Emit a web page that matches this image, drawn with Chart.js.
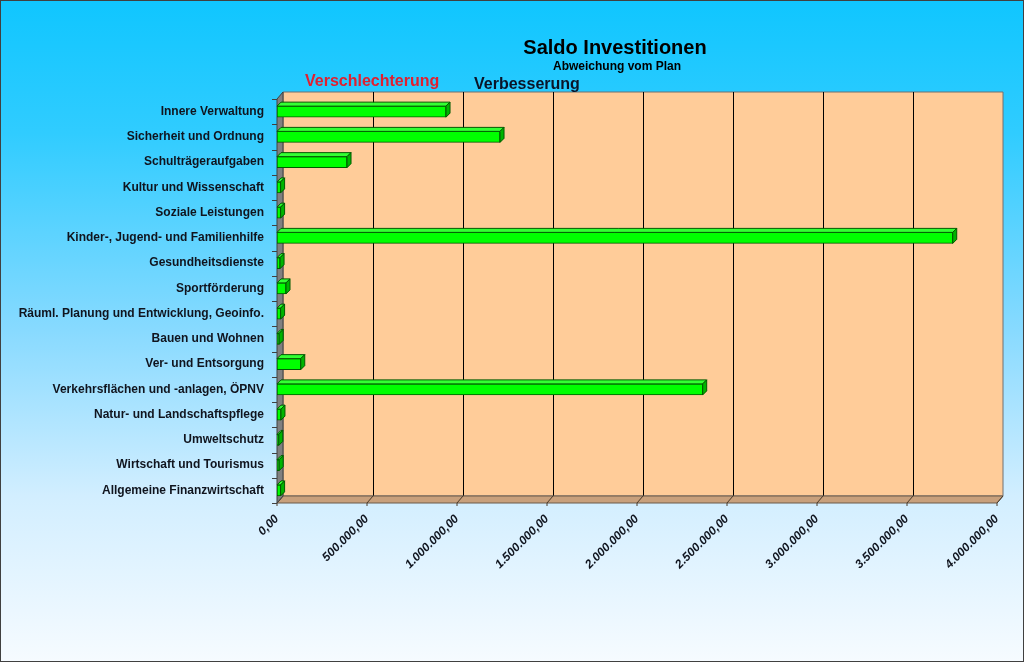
<!DOCTYPE html>
<html>
<head>
<meta charset="utf-8">
<script src="https://cdn.jsdelivr.net/npm/chart.js@4.4.1/dist/chart.umd.min.js"></script>
<style>
    html, body { margin: 0; padding: 0; }
    #wrap {
        width: 1024px; height: 662px; box-sizing: border-box;
        border: 1px solid #404040;
        background: linear-gradient(to bottom, #10c6ff 0%, #30ccff 20%, #88daff 50%, #d2eeff 75%, #f6fbff 100%);
        position: relative;
    }
    canvas { position: absolute; left: -1px; top: -1px; }
</style>
</head>
<body>
<div id="wrap"><canvas id="grafico" width="1024" height="662"></canvas></div>
<script>
// Daten
const bereiche = [
    'Innere Verwaltung',
    'Sicherheit und Ordnung',
    'Schulträgeraufgaben',
    'Kultur und Wissenschaft',
    'Soziale Leistungen',
    'Kinder-, Jugend- und Familienhilfe',
    'Gesundheitsdienste',
    'Sportförderung',
    'Räuml. Planung und Entwicklung, Geoinfo.',
    'Bauen und Wohnen',
    'Ver- und Entsorgung',
    'Verkehrsflächen und -anlagen, ÖPNV',
    'Natur- und Landschaftspflege',
    'Umweltschutz',
    'Wirtschaft und Tourismus',
    'Allgemeine Finanzwirtschaft'
];
const saldo = [
    939000, 1239000, 389000, 20000, 20000, 3754000, 17000, 50000,
    20000, 12000, 132000, 2365000, 22000, 10000, 12000, 20000
];
const achseMin = 0;
const achseMax = 4000000;
const achseSchritt = 500000;

// Tiefe des 3D-Effekts
const wandDx = 6, wandDy = -7;
const balkenTiefe = 4;

function formatDe(v) {
    const teile = v.toFixed(2).split('.');
    const ganz = teile[0].replace(/\B(?=(\d{3})+(?!\d))/g, '.');
    return ganz + ',' + teile[1];
}

function poly(ctx, pts, fill, stroke) {
    ctx.beginPath();
    ctx.moveTo(pts[0][0], pts[0][1]);
    for (let i = 1; i < pts.length; i++) ctx.lineTo(pts[i][0], pts[i][1]);
    ctx.closePath();
    if (fill) { ctx.fillStyle = fill; ctx.fill(); }
    if (stroke) { ctx.strokeStyle = stroke; ctx.lineWidth = 1; ctx.stroke(); }
}

// Wände, Boden und Gitter hinter den Balken
const wandPlugin = {
    id: 'wand',
    beforeDatasetsDraw(chart) {
        const ctx = chart.ctx;
        const a = chart.chartArea;
        const x = chart.scales.x;
        ctx.save();
        // Rückwand
        poly(ctx, [[a.left + wandDx, a.top + wandDy], [a.right + wandDx, a.top + wandDy],
                   [a.right + wandDx, a.bottom + wandDy], [a.left + wandDx, a.bottom + wandDy]], '#ffcc99', '#707070');
        // Gitterlinien
        ctx.strokeStyle = '#000000';
        ctx.lineWidth = 1;
        for (let v = achseMin + achseSchritt; v < achseMax; v += achseSchritt) {
            const px = Math.round(x.getPixelForValue(v) + wandDx) + 0.5;
            ctx.beginPath();
            ctx.moveTo(px, a.top + wandDy);
            ctx.lineTo(px, a.bottom + wandDy);
            ctx.stroke();
        }
        // Boden
        poly(ctx, [[a.left, a.bottom], [a.left + wandDx, a.bottom + wandDy],
                   [a.right + wandDx, a.bottom + wandDy], [a.right, a.bottom]], '#c8a07c', '#6a5a4a');
        ctx.strokeStyle = '#4a3a2a';
        for (let v = achseMin; v <= achseMax; v += achseSchritt) {
            const px = x.getPixelForValue(v);
            ctx.beginPath();
            ctx.moveTo(px, a.bottom + 3);
            ctx.lineTo(px, a.bottom);
            ctx.lineTo(px + wandDx, a.bottom + wandDy);
            ctx.stroke();
        }
        // Seitenwand links
        poly(ctx, [[a.left, a.top], [a.left + wandDx, a.top + wandDy],
                   [a.left + wandDx, a.bottom + wandDy], [a.left, a.bottom]], '#808080', '#404040');
        // kleine Striche links
        ctx.strokeStyle = '#404040';
        const band = (a.bottom - a.top) / bereiche.length;
        for (let i = 0; i <= bereiche.length; i++) {
            const py = Math.round(a.top + i * band) + 0.5;
            ctx.beginPath();
            ctx.moveTo(a.left - 5, py);
            ctx.lineTo(a.left, py);
            ctx.stroke();
        }
        ctx.restore();
    },
    afterDatasetsDraw(chart) {
        const ctx = chart.ctx;
        const meta = chart.getDatasetMeta(0);
        const d = balkenTiefe;
        ctx.save();
        meta.data.forEach(bar => {
            const p = bar.getProps(['x', 'y', 'base', 'height'], true);
            const top = p.y - p.height / 2;
            const bottom = p.y + p.height / 2;
            // Oberseite
            poly(ctx, [[p.base, top], [p.base + d, top - d], [p.x + d, top - d], [p.x, top]], '#33ff33', '#005a00');
            // rechte Seite
            poly(ctx, [[p.x, top], [p.x + d, top - d], [p.x + d, bottom - d], [p.x, bottom]], '#00b400', '#005a00');
        });
        ctx.restore();
    },
    afterDraw(chart) {
        const ctx = chart.ctx;
        ctx.save();
        ctx.textAlign = 'center';
        ctx.textBaseline = 'middle';
        ctx.fillStyle = '#000000';
        ctx.font = 'bold 20px "Liberation Sans", Arial, sans-serif';
        ctx.fillText('Saldo Investitionen', 615, 48);
        ctx.font = 'bold 12px "Liberation Sans", Arial, sans-serif';
        ctx.fillText('Abweichung vom Plan', 617, 67);
        ctx.textAlign = 'left';
        ctx.font = 'bold 16px "Liberation Sans", Arial, sans-serif';
        ctx.fillStyle = '#e02030';
        ctx.fillText('Verschlechterung', 305, 82);
        ctx.fillStyle = '#0a1428';
        ctx.fillText('Verbesserung', 474, 85);
        ctx.restore();
    }
};

new Chart(document.getElementById('grafico'), {
    type: 'bar',
    data: {
        labels: bereiche,
        datasets: [{
            label: 'Saldo',
            data: saldo,
            backgroundColor: '#00ff00',
            borderColor: '#005a00',
            borderWidth: 1,
            borderSkipped: false,
            barThickness: 11
        }]
    },
    options: {
        indexAxis: 'y',
        responsive: false,
        animation: false,
        layout: { padding: { top: 99, right: 27, left: 0, bottom: 0 } },
        plugins: {
            legend: { display: false },
            tooltip: { enabled: false }
        },
        scales: {
            y: {
                grid: { display: false, drawTicks: false },
                border: { display: false },
                afterFit(s) { s.width = 277; },
                ticks: {
                    padding: 13,
                    color: '#10141e',
                    font: { family: '"Liberation Sans", Arial, sans-serif', size: 12, weight: 'bold' }
                }
            },
            x: {
                min: achseMin,
                max: achseMax,
                grid: { display: false, drawTicks: false },
                border: { display: false },
                afterFit(s) { s.height = 159; },
                ticks: {
                    stepSize: achseSchritt,
                    minRotation: 45,
                    maxRotation: 45,
                    padding: 9,
                    color: '#10141e',
                    font: { family: '"Liberation Sans", Arial, sans-serif', size: 12, weight: 'bold', style: 'italic' },
                    callback: v => formatDe(v)
                }
            }
        }
    },
    plugins: [wandPlugin]
});
</script>
</body>
</html>
